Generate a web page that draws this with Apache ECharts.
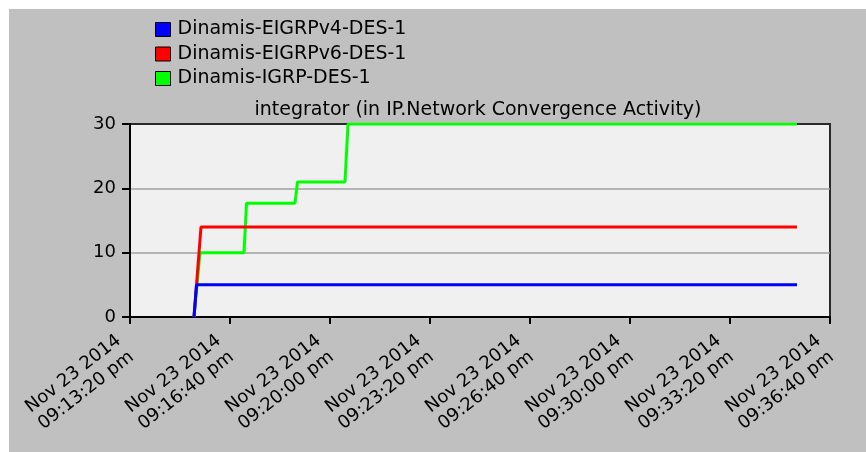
<!DOCTYPE html>
<html>
<head>
<meta charset="utf-8">
<script src="https://cdn.jsdelivr.net/npm/echarts@6/dist/echarts.min.js"></script>
<style>
  html, body { margin: 0; padding: 0; background: #ffffff; }
  #wrap { position: relative; width: 866px; height: 452px; background: #ffffff; overflow: hidden; }
  #chart { position: absolute; left: 9px; top: 9px; width: 857px; height: 443px; }
</style>
</head>
<body>
<div id="wrap"><div id="chart"></div></div>
<script>
// Time in seconds after Nov 23 2014 09:13:20 pm
const seriesNames = ['Dinamis-EIGRPv4-DES-1', 'Dinamis-EIGRPv6-DES-1', 'Dinamis-IGRP-DES-1'];
const blueTime = [128, 133, 1334];
const blueValue = [0, 5, 5];
const redTime = [128, 142, 1334];
const redValue = [0, 14, 14];
const greenTime = [128, 140, 228, 233, 330, 335, 430, 436, 1334];
const greenValue = [0, 10, 10, 17.7, 17.7, 21, 21, 30, 30];
const tickDates = ['Nov 23 2014', 'Nov 23 2014', 'Nov 23 2014', 'Nov 23 2014', 'Nov 23 2014', 'Nov 23 2014', 'Nov 23 2014', 'Nov 23 2014'];
const tickTimes = ['09:13:20 pm', '09:16:40 pm', '09:20:00 pm', '09:23:20 pm', '09:26:40 pm', '09:30:00 pm', '09:33:20 pm', '09:36:40 pm'];
const tickStep = 200;
const yTicks = [0, 10, 20, 30];
const titleText = 'integrator (in IP.Network Convergence Activity)';

function pairs(t, v) { return t.map((x, i) => [x, v[i]]); }

const FONT = 'DejaVu Sans';
const chart = echarts.init(document.getElementById('chart'), null, { renderer: 'canvas' });
chart.setOption({
  backgroundColor: '#c0c0c0',
  animation: false,
  textStyle: { fontFamily: FONT, color: '#000' },
  title: {
    text: titleText,
    left: 469,
    top: 92,
    textAlign: 'center',
    padding: 0,
    textStyle: { fontFamily: FONT, fontSize: 19, fontWeight: 'normal', color: '#000' }
  },
  legend: {
    orient: 'vertical',
    left: 146,
    top: 11,
    padding: 0,
    itemGap: 5.5,
    itemWidth: 15,
    itemHeight: 14,
    icon: 'rect',
    data: seriesNames,
    itemStyle: { borderColor: '#000', borderWidth: 1 },
    textStyle: { fontFamily: FONT, fontSize: 19, color: '#000', padding: [0, 0, 0, 2] }
  },
  grid: {
    left: 121, top: 115, width: 700, height: 193,
    show: true, backgroundColor: '#f0f0f0', borderColor: '#2a2a2a', borderWidth: 2,
    containLabel: false
  },
  xAxis: {
    type: 'value',
    min: 0, max: tickStep * (tickTimes.length - 1), interval: tickStep,
    axisLine: { show: true, lineStyle: { color: '#000', width: 2 } },
    axisTick: { show: true, length: 7, lineStyle: { color: '#000', width: 2 } },
    splitLine: { show: false },
    axisLabel: {
      rotate: 38,
      margin: 26,
      padding: [0, 6, 0, 0],
      fontFamily: FONT, fontSize: 18, lineHeight: 21, color: '#000',
      formatter: function (v) { const i = Math.round(v / tickStep); return tickDates[i] + '\n' + tickTimes[i]; }
    }
  },
  yAxis: {
    type: 'value',
    min: yTicks[0], max: yTicks[yTicks.length - 1], interval: 10,
    axisLine: { show: true, lineStyle: { color: '#000', width: 2 } },
    axisTick: { show: true, length: 8, lineStyle: { color: '#000', width: 2 } },
    splitLine: { show: true, showMinLine: false, showMaxLine: false, lineStyle: { color: '#a0a0a0', width: 1.5 } },
    axisLabel: { margin: 14, fontFamily: FONT, fontSize: 18, color: '#000' }
  },
  series: [
    { name: seriesNames[0], type: 'line', z: 5, data: pairs(blueTime, blueValue), showSymbol: false, color: '#0000ff', lineStyle: { width: 3, color: '#0000ff' } },
    { name: seriesNames[1], type: 'line', z: 4, data: pairs(redTime, redValue), showSymbol: false, color: '#ff0000', lineStyle: { width: 3, color: '#ff0000' } },
    { name: seriesNames[2], type: 'line', z: 3, data: pairs(greenTime, greenValue), showSymbol: false, color: '#00ff00', lineStyle: { width: 3, color: '#00ff00' } }
  ]
});
</script>
</body>
</html>
